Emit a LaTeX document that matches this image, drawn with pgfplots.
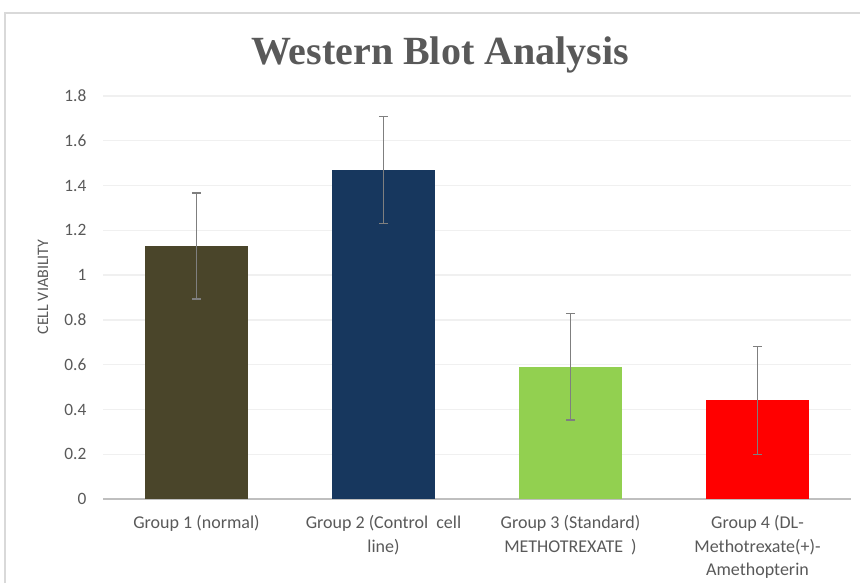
\documentclass[border=0pt]{standalone}
\usepackage{pgfplots}
\pgfplotsset{compat=1.18}
\usepackage{fontspec}
\setmainfont{Carlito}
\newfontfamily\titlefont{Liberation Serif}
\definecolor{txt}{HTML}{595959}
\definecolor{bord}{HTML}{D9D9D9}
\definecolor{gridc}{HTML}{F0F0F0}
\definecolor{axc}{HTML}{BFBFBF}
\definecolor{errc}{HTML}{7F7F7F}
\definecolor{c1}{HTML}{4A452A}
\definecolor{c2}{HTML}{17375E}
\definecolor{c3}{HTML}{92D050}
\definecolor{c4}{HTML}{FF0000}
\pgfplotsset{
  errstyle/.style={error bars/.cd, y dir=both, y explicit,
    error bar style={errc, line width=0.9pt},
    error mark=-, error mark options={rotate=90, errc, line width=0.9pt, mark size=3.4pt}}
}
\begin{document}
\begin{tikzpicture}[x=1pt,y=1pt]
\path[use as bounding box] (0,0) rectangle (645,437.25);
\draw[bord, line width=1pt] (3.75,0) -- (3.75,427.5) -- (645,427.5);
\node[anchor=base, font=\titlefont\bfseries\fontsize{30}{36}\selectfont, text=txt] at (330,389) {Western Blot Analysis};
\node[rotate=90, font=\fontsize{12}{14}\selectfont, text=txt] at (32.25,222) {CELL VIABILITY};
\begin{axis}[
  at={(77.25pt,63pt)}, anchor=south west,
  scale only axis, width=561pt, height=302.25pt,
  xmin=-0.5, xmax=3.5, ymin=0, ymax=1.8,
  axis lines*=left,
  y axis line style={draw=none},
  x axis line style={draw=axc, line width=1pt, -},
  major tick length=0pt,
  tick style={draw=none},
  xmajorgrids=false,
  ymajorgrids=true, grid style={draw=gridc, line width=1pt},
  ytick={0,0.2,0.4,0.6,0.8,1,1.2,1.4,1.6,1.8},
  yticklabels={0,0.2,0.4,0.6,0.8,1,1.2,1.4,1.6,1.8},
  yticklabel style={font=\fontsize{13}{15}\selectfont, text=txt, xshift=-9pt},
  xtick={0,1,2,3},
  xticklabels={Group 1 (normal), {Group 2 (Control\ \ cell\\line)}, {Group 3 (Standard)\\METHOTREXATE\ \ )}, {Group 4 (DL-\\Methotrexate(+)-\\Amethopterin}},
  xticklabel style={font=\fontsize{13.5}{17.6}\selectfont, text=txt, align=center, yshift=-9pt},
  bar width=0.556,
  clip=false,
]
\addplot[ybar, fill=c1, draw=none, errstyle] coordinates {(0,1.13) +- (0,0.237)};
\addplot[ybar, fill=c2, draw=none, errstyle] coordinates {(1,1.47) +- (0,0.24)};
\addplot[ybar, fill=c3, draw=none, errstyle] coordinates {(2,0.59) +- (0,0.237)};
\addplot[ybar, fill=c4, draw=none, errstyle] coordinates {(3,0.44) +- (0,0.24)};
\end{axis}
\end{tikzpicture}
\end{document}
